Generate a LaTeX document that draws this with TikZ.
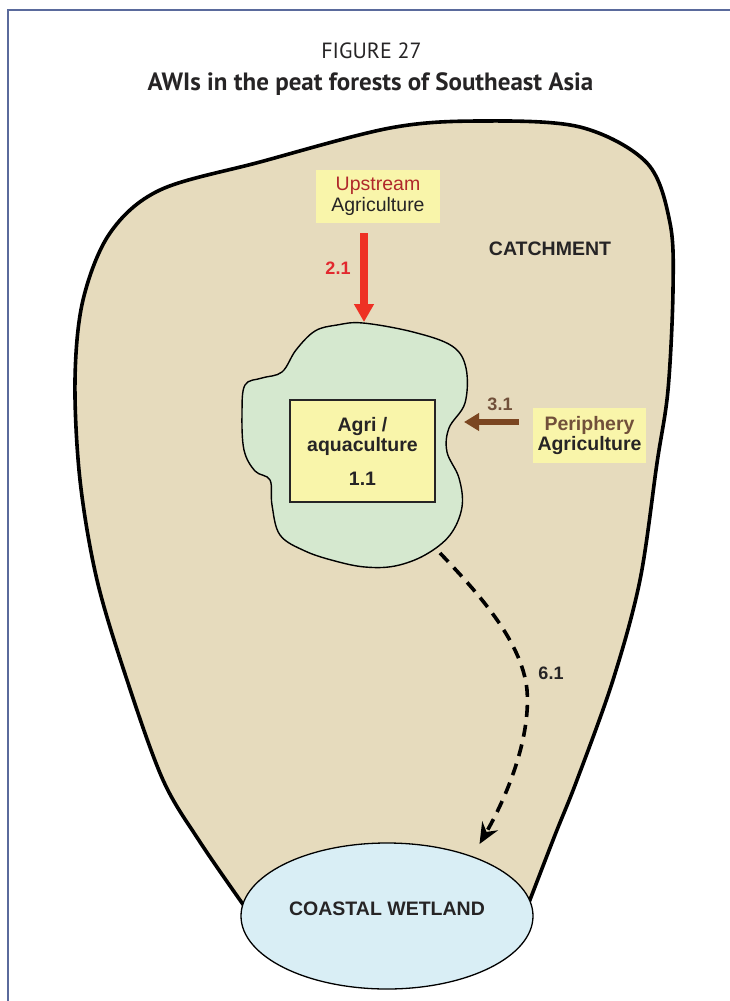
\documentclass[tikz,border=0pt]{standalone}
\usepackage{fontspec}
\setmainfont{Liberation Sans}
\newfontfamily\titlefont{PT Sans}
\usetikzlibrary{arrows.meta,shapes.geometric}
\definecolor{framec}{HTML}{5A6A9C}
\definecolor{tanc}{HTML}{E6DBBD}
\definecolor{blobgreen}{HTML}{D5E8CF}
\definecolor{boxyellow}{HTML}{F9F5AA}
\definecolor{wetblue}{HTML}{D9EEF5}
\definecolor{arrowred}{HTML}{EE3124}
\definecolor{numred}{HTML}{E2282E}
\definecolor{textred}{HTML}{B0282A}
\definecolor{brownarrow}{HTML}{7B4621}
\definecolor{browntext}{HTML}{71503A}
\definecolor{ink}{HTML}{262425}
\begin{document}
\begin{tikzpicture}[x=1pt,y=-1pt,
  lbl/.style={font=\fontsize{19.5}{20.5}\selectfont, text=ink, align=center, inner sep=0pt},
  blbl/.style={lbl, font=\fontsize{19.5}{20.5}\selectfont\bfseries},
  numlbl/.style={font=\fontsize{18}{20}\selectfont\bfseries, inner sep=0pt},
  ybox/.style={fill=boxyellow, align=center, inner sep=0pt},
  flowred/.style={arrowred, line width=8pt, -{Triangle[length=18pt,width=19pt]}},
  flowbrown/.style={brownarrow, line width=5.5pt, -{Triangle[length=15pt,width=17pt]}},
  flowdash/.style={black, line width=3.6pt, dash pattern=on 12pt off 8pt,
    -{Stealth[length=21pt,width=18pt,inset=7pt]}}]
\useasboundingbox (0,0) rectangle (730,1001);
% frame
\draw[framec, line width=2pt] (7.7,1001) -- (7.7,9.5) -- (731,9.5);
% title
\node[font=\titlefont\fontsize{22}{24}\selectfont, text=ink, inner sep=0pt, anchor=base] (fig) at (371.5,58.3) {FIGURE 27};
\node[font=\titlefont\fontsize{25}{27}\selectfont\bfseries, text=ink, inner sep=0pt, anchor=base] (title) at (370.5,90) {AWIs in the peat forests of Southeast Asia};
% catchment
\filldraw[fill=tanc, draw=black, line width=3.6pt, line join=round]
  plot[smooth, tension=0.55] coordinates {(247,910) (200,842) (163,780) (127,680) (97,580) (80,480) (75,380) (83,300) (110,233) (160,190) (260,162) (390,128) (480,121) (580,127) (647,163) (670,223) (673,290) (668,390) (657,463) (640,580) (613,680) (577,780) (555,835) (528,905)}
  -- (387,930) -- cycle;
% peat forest blob
\filldraw[fill=blobgreen, draw=black, line width=1.4pt]
  plot[smooth cycle, tension=0.6] coordinates {(363,323) (413,332) (452,346) (466,368) (465,403) (449,428) (447,452) (459,478) (462,507) (450,535) (425,555) (395,566) (365,567) (335,561) (305,551) (280,535) (272,505) (270,480) (255,471) (244,450) (242,413) (245,385) (262,378) (282,372) (296,350) (315,331) (337,325)};
\coordinate (blobN) at (364,323);
\coordinate (blobE) at (450,422);
\coordinate (blobSE) at (440,553);
% agri box
\node[blbl, fill=boxyellow, draw=ink, line width=1.8pt, minimum width=145pt, minimum height=102pt] (agri) at (362.5,451) {Agri /\\aquaculture\\[13pt]1.1};
% upstream
\node[lbl, ybox, minimum width=124pt, minimum height=53pt] (up) at (378,196.5) {\textcolor{textred}{Upstream}\\Agriculture};
% periphery
\node[blbl, ybox, minimum width=113pt, minimum height=55pt] (peri) at (589.5,435.5) {\textcolor{browntext}{Periphery}\\Agriculture};
% catchment label
\node[blbl] (catch) at (550,249) {CATCHMENT};
% coastal wetland
\node[ellipse, fill=wetblue, draw=black, line width=1.3pt, minimum width=292pt, minimum height=146pt, inner sep=0pt,
  font=\fontsize{19.5}{20.5}\selectfont\bfseries, text=ink, text height=14pt, text depth=16pt] (wet) at (387,916) {COASTAL WETLAND};
% connectors
\draw[flowred, shorten <=10pt, shorten >=1pt] (up.south -| blobN) -- (blobN);
\node[numlbl, text=numred] (n21) at (338,268) {2.1};
\draw[flowbrown, shorten <=14pt, shorten >=14pt] (peri.west |- blobE) -- (blobE);
\node[numlbl, text=browntext] (n31) at (500,404) {3.1};
\draw[flowdash, shorten >=14pt] (blobSE) .. controls (475,590) and (522,640) .. (527,690)
  .. controls (531,740) and (505,800) .. (wet.35);
\node[numlbl, text=ink] (n61) at (551,673) {6.1};
\end{tikzpicture}
\end{document}
